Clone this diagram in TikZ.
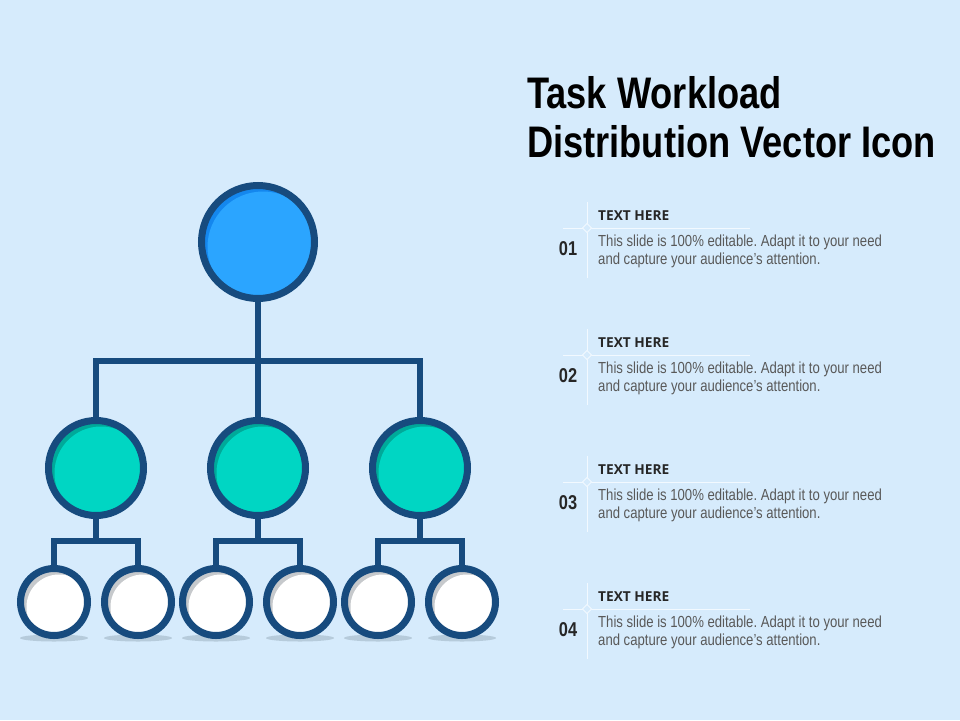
\documentclass[tikz,border=0pt]{standalone}
\usepackage{fontspec}
\setmainfont{Liberation Sans}
\newfontfamily\narrowfont[FakeStretch=0.82]{Liberation Sans}
\newfontfamily\headfont{Open Sans}
\definecolor{bg}{HTML}{D6EBFC}
\definecolor{strokec}{HTML}{174B7E}
\definecolor{bluelight}{HTML}{2BA5FF}
\definecolor{bluedark}{HTML}{1487EE}
\definecolor{tealight}{HTML}{00D6C3}
\definecolor{teadark}{HTML}{00A999}
\definecolor{greydark}{HTML}{C6C9CC}
\definecolor{shadowc}{HTML}{B6CBDB}
\definecolor{bodytext}{HTML}{595959}
\definecolor{headtext}{HTML}{262626}
\definecolor{sepline}{HTML}{F2F9FF}
\tikzset{
  ball/.style n args={3}{circle, inner sep=0pt, minimum size=#1, draw=strokec, line width=7pt, fill=#2,
    path picture={\fill[#3] ([xshift=5pt,yshift=-5pt]path picture bounding box.center) circle ({#1/2-1pt});}},
  topball/.style={ball={113pt}{bluedark}{bluelight}},
  midball/.style={ball={95pt}{teadark}{tealight}},
  leafball/.style={ball={67pt}{greydark}{white}},
  conn/.style={draw=strokec, line width=6pt},
  shadowel/.style={fill=shadowc},
  numtext/.style={inner sep=0pt, anchor=center, font=\narrowfont\bfseries\fontsize{20}{22}\selectfont, text=headtext},
  headtextst/.style={inner sep=0pt, anchor=base west, font=\headfont\bfseries\fontsize{13.7}{16}\selectfont, text=headtext},
  bodyst/.style={inner sep=0pt, anchor=base west, font=\narrowfont\fontsize{16}{18}\selectfont, text=bodytext},
  titlest/.style={inner sep=0pt, anchor=base west, font=\narrowfont\bfseries\fontsize{44.2}{50}\selectfont, text=black},
  sepst/.style={draw=sepline, line width=1pt}
}
\begin{document}
\frenchspacing
\begin{tikzpicture}[x=1pt,y=-1pt]
\fill[bg] (0,0) rectangle (960,720);
\useasboundingbox (0,0) rectangle (960,720);
% shadows under leaves
\foreach \cx in {54,138,216,300,378,462}{
  \fill[shadowel] (\cx,638) ellipse [x radius=34pt, y radius=3.5pt];
}
% nodes
\node[topball] (top) at (258,242) {};
\node[midball] (m1) at (96,468) {};
\node[midball] (m2) at (258,468) {};
\node[midball] (m3) at (420,468) {};
\node[leafball] (l1) at (54,602) {};
\node[leafball] (l2) at (138,602) {};
\node[leafball] (l3) at (216,602) {};
\node[leafball] (l4) at (300,602) {};
\node[leafball] (l5) at (378,602) {};
\node[leafball] (l6) at (462,602) {};
\coordinate (bus) at (258,361);
\coordinate (b1) at (96,541);
\coordinate (b2) at (258,541);
\coordinate (b3) at (420,541);
% connectors
\draw[conn] (top.south) -- (m2.north);
\draw[conn] (m1.north) |- (bus);
\draw[conn] (m3.north) |- (bus);
\draw[conn] (m1.south) -- (b1);
\draw[conn] (l1.north) |- (b1);
\draw[conn] (l2.north) |- (b1);
\draw[conn] (m2.south) -- (b2);
\draw[conn] (l3.north) |- (b2);
\draw[conn] (l4.north) |- (b2);
\draw[conn] (m3.south) -- (b3);
\draw[conn] (l5.north) |- (b3);
\draw[conn] (l6.north) |- (b3);
% title
\node[titlest] (t1) at (527,108) {Task Workload};
\node[titlest] (t2) at (527,157) {Distribution Vector Icon};
% list items
\foreach \i/\n in {0/01,1/02,2/03,3/04}{
  \pgfmathsetmacro{\yy}{214+127*\i}
  \draw[sepst] (587,\yy-12) -- (587,\yy+64);
  \draw[sepst] (563,\yy+14) -- (750,\yy+14);
  \draw[sepst, fill=bg] (582.5,\yy+14) -- (587,\yy+9.5) -- (591.5,\yy+14) -- (587,\yy+18.5) -- cycle;
  \node[numtext] (num\i) at (568,\yy+35) {\n};
  \node[headtextst] (head\i) at (598,\yy+6) {TEXT HERE};
  \node[bodyst] (bodya\i) at (598,\yy+32) {This slide is 100\% editable. Adapt it to your need};
  \node[bodyst] (bodyb\i) at (598,\yy+50) {and capture your audience’s attention.};
}
\end{tikzpicture}
\end{document}
